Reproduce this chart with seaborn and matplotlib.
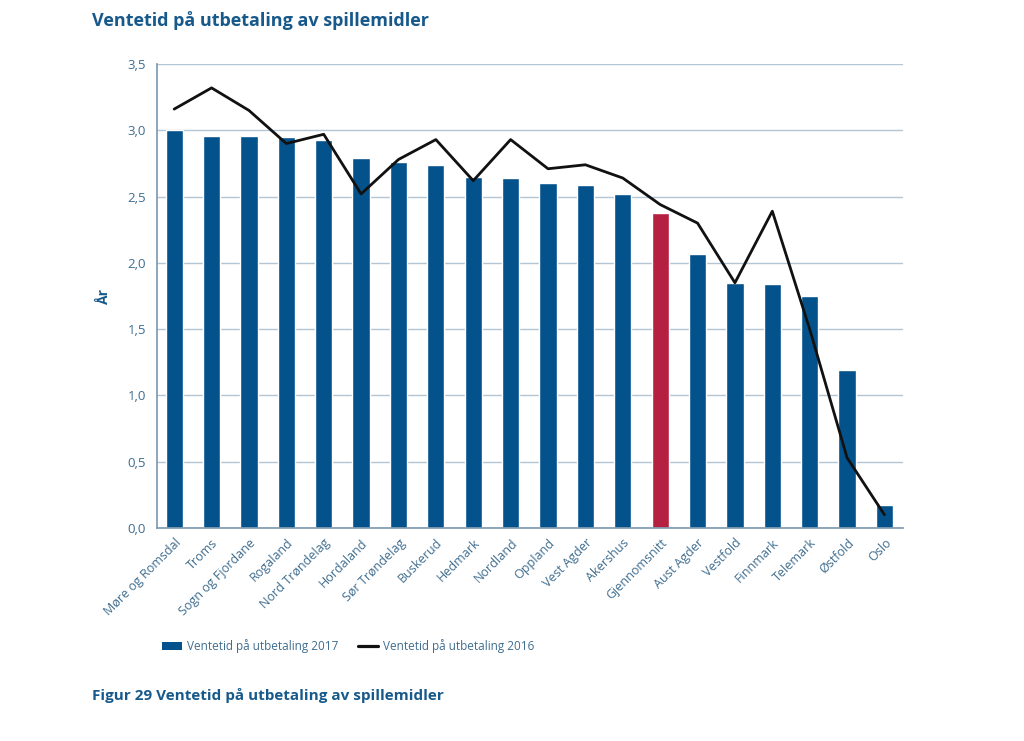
import numpy as np
import pandas as pd
import seaborn as sns
import matplotlib.pyplot as plt
from matplotlib.patches import Patch
from matplotlib.lines import Line2D
from matplotlib.ticker import FuncFormatter, MultipleLocator

# data
fylker = ['Møre og Romsdal', 'Troms', 'Sogn og Fjordane', 'Rogaland', 'Nord Trøndelag',
          'Hordaland', 'Sør Trøndelag', 'Buskerud', 'Hedmark', 'Nordland', 'Oppland',
          'Vest Agder', 'Akershus', 'Gjennomsnitt', 'Aust Agder', 'Vestfold', 'Finnmark',
          'Telemark', 'Østfold', 'Oslo']
ventetid_2017 = [3.00, 2.96, 2.96, 2.95, 2.93, 2.79, 2.76, 2.74, 2.65, 2.64, 2.60,
                 2.59, 2.52, 2.38, 2.07, 1.85, 1.84, 1.75, 1.19, 0.17]
ventetid_2016 = [3.16, 3.32, 3.15, 2.90, 2.97, 2.52, 2.78, 2.93, 2.62, 2.93, 2.71,
                 2.74, 2.64, 2.44, 2.30, 1.85, 2.39, 1.50, 0.53, 0.10]

blaa = '#03528c'
roed = '#b52040'
tekst = '#3f6d8f'
tittel = '#17598a'
grid_farge = '#b4c6d4'

farger = [roed if f == 'Gjennomsnitt' else blaa for f in fylker]
df = pd.DataFrame({'fylke': fylker, 'y2017': ventetid_2017, 'y2016': ventetid_2016})
df['pos'] = np.arange(len(df))

sns.set_theme(style='white')
plt.rcParams['font.family'] = ['Open Sans', 'DejaVu Sans']

fig = plt.figure(figsize=(10.24, 7.41), dpi=100)
ax = fig.add_axes([0.1533, 0.2874, 0.7287, 0.6262])

# stolper 2017 og linje 2016
sns.barplot(data=df, x='fylke', y='y2017', hue='fylke', palette=farger,
            width=0.46, legend=False, ax=ax, saturation=1)
sns.lineplot(data=df, x='pos', y='y2016', color='#111111', linewidth=2.0, ax=ax)

ax.set_ylim(0, 3.5)
ax.set_xlim(-0.46, 19.5)
ax.yaxis.set_major_locator(MultipleLocator(0.5))
ax.yaxis.set_major_formatter(FuncFormatter(lambda v, p: f'{v:.1f}'.replace('.', ',')))
ax.grid(axis='y', color=grid_farge, linewidth=1)
ax.set_axisbelow(True)

for s in ['top', 'right']:
    ax.spines[s].set_visible(False)
ax.spines['left'].set_color('#7f9bb2')
ax.spines['bottom'].set_color('#7f9bb2')

ax.set_xticks(np.arange(len(fylker)))
ax.set_xticklabels(fylker, rotation=45, ha='right', rotation_mode='anchor')
ax.tick_params(axis='x', colors=tekst, labelsize=9, length=0, pad=6)
ax.tick_params(axis='y', colors=tekst, labelsize=9.5, length=0, pad=8)
ax.set_xlabel('')
ax.set_ylabel('År', color=tittel, fontsize=10, fontweight='bold', labelpad=12)

fig.text(0.09, 0.972, 'Ventetid på utbetaling av spillemidler', color=tittel,
         fontsize=13, fontweight='bold', va='center')
fig.text(0.09, 0.062, 'Figur 29 Ventetid på utbetaling av spillemidler', color=tittel,
         fontsize=11, fontweight='bold', va='center')

handles = [Patch(facecolor=blaa, edgecolor='none'),
           Line2D([0], [0], color='#111111', linewidth=2.3)]
leg = fig.legend(handles, ['Ventetid på utbetaling 2017', 'Ventetid på utbetaling 2016'],
                 loc='center left', bbox_to_anchor=(0.148, 0.128), ncol=2, frameon=False,
                 fontsize=8.5, handlelength=1.7, handletextpad=0.4, columnspacing=1.7)
for t in leg.get_texts():
    t.set_color(tekst)

fig.savefig('out.png', dpi=100)
